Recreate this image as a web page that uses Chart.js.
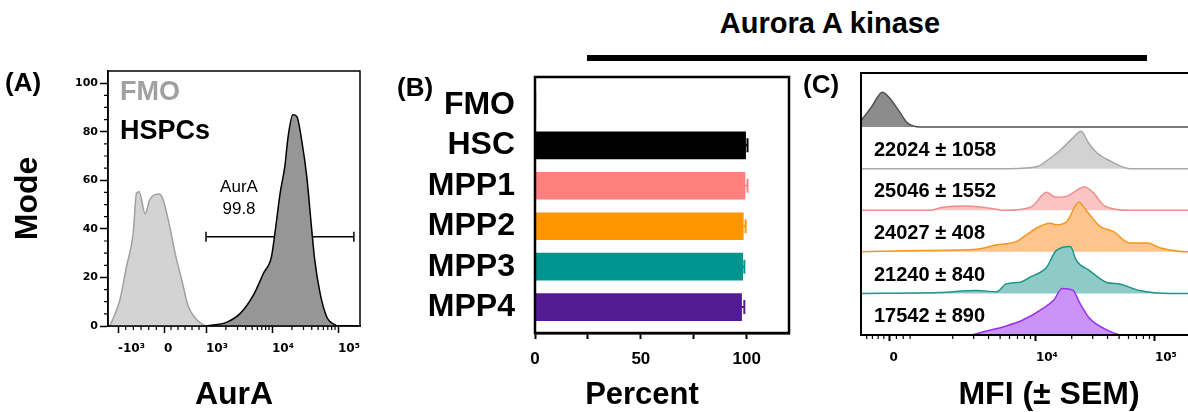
<!DOCTYPE html>
<html>
<head>
<meta charset="utf-8">
<script src="https://cdn.jsdelivr.net/npm/chart.js@4.4.1/dist/chart.umd.min.js"></script>
<style>
  body { margin: 0; background: #fff; width: 1188px; height: 412px; overflow: hidden; position: relative; font-family: "Liberation Sans", Arial, sans-serif; }
  canvas { position: absolute; top: 0; }
  #heading { position: absolute; left: 630px; top: 9px; width: 400px; text-align: center; font-size: 29px; line-height: 29px; font-weight: bold; }
  #rule { position: absolute; left: 587px; top: 55px; width: 560px; height: 6px; background: #000; }
</style>
</head>
<body>
<div id="heading">Aurora A kinase</div>
<div id="rule"></div>
<canvas id="chartA" width="380" height="412" style="left:0px"></canvas>
<canvas id="chartB" width="420" height="412" style="left:380px"></canvas>
<canvas id="chartC" width="437" height="412" style="left:800px"></canvas>
<script>
// Panel A - AurA histograms (x in display decades: 3 = 10^3, 4 = 10^4 ...)
const fmoAX = [1.545, 1.695, 1.795, 1.896, 1.947, 1.987, 2.078, 2.148, 2.299, 2.350, 2.450, 2.531, 2.632, 2.732, 2.864, 2.985];
const fmoAY = [0, 10.7, 24.5, 38, 54.7, 55.3, 46.2, 52, 54.4, 52, 41, 30, 19, 8, 2.5, 0];
const hspcAX = [3.005, 3.317, 3.519, 3.720, 3.871, 3.992, 4.043, 4.123, 4.194, 4.244, 4.315, 4.375, 4.456, 4.526, 4.597, 4.647, 4.728, 4.828, 4.980];
const hspcAY = [0, 1.6, 5.2, 12.8, 21.7, 28.6, 38, 54.7, 65.7, 78, 87, 86.3, 75.3, 61.6, 41, 27.2, 13.5, 3.8, 0];
const gateRange = [3.0, 5.24];
const gateLevel = 36.7;
const gateText = ['AurA', '99.8'];
const modeTicks = [0, 20, 40, 60, 80, 100];
const tickPosA = [1.667, 2.364, 3, 4, 5];
const tickLabA = ['-10³', '0', '10³', '10⁴', '10⁵'];

// Panel B - percent positive
const categories = ['FMO', 'HSC', 'MPP1', 'MPP2', 'MPP3', 'MPP4'];
const percentValues = [0.5, 99.5, 99.2, 98.4, 98.1, 97.6];
const percentSem = [0.2, 0.9, 1.2, 1.1, 0.8, 1.3];
const barColors = ['#bdbdbd', '#000000', '#ff7f7f', '#ff9500', '#00948f', '#531b93'];
const percentTicks = [0, 25, 50, 75, 100];

// Panel C - offset histograms, heights per row (rows top to bottom)
const cFmoX = [2.53, 2.62, 2.71, 2.77, 2.86, 2.92, 3.03, 5.69];
const cFmoH = [0.15, 0.49, 0.84, 0.70, 0.34, 0.10, 0, 0];
const cHscX = [2.53, 3.78, 4.01, 4.09, 4.20, 4.30, 4.38, 4.44, 4.51, 4.62, 4.79, 5.69];
const cHscH = [0, 0, 0.05, 0.19, 0.43, 0.71, 0.90, 0.63, 0.39, 0.19, 0, 0];
const cMpp1X = [2.53, 3.10, 3.22, 3.42, 3.61, 3.72, 3.87, 3.97, 4.09, 4.17, 4.26, 4.41, 4.48, 4.58, 4.79, 5.69];
const cMpp1H = [0, 0, 0.07, 0.10, 0.05, 0, 0.02, 0.10, 0.43, 0.31, 0.34, 0.56, 0.43, 0.10, 0, 0];
const cMpp2X = [2.53, 3.05, 3.50, 3.67, 3.84, 3.92, 4.03, 4.12, 4.17, 4.26, 4.36, 4.43, 4.54, 4.65, 4.79, 4.94, 5.04, 5.18, 5.27, 5.69];
const cMpp2H = [0, 0.03, 0.06, 0.17, 0.25, 0.41, 0.61, 0.69, 0.65, 0.73, 1.19, 0.97, 0.61, 0.49, 0.21, 0.21, 0.10, 0.02, 0, 0];
const cMpp3X = [2.53, 3.19, 3.50, 3.67, 3.75, 3.87, 3.95, 4.09, 4.17, 4.29, 4.34, 4.45, 4.59, 4.71, 4.87, 5.13, 5.69];
const cMpp3H = [0, 0.02, 0.07, 0.04, 0.23, 0.27, 0.39, 0.63, 1.03, 1.13, 0.79, 0.55, 0.27, 0.22, 0.07, 0, 0];
const cMpp4X = [2.53, 3.45, 3.56, 3.73, 3.89, 4.06, 4.15, 4.22, 4.31, 4.37, 4.45, 4.57, 4.73, 5.69];
const cMpp4H = [0, 0, 0.08, 0.20, 0.36, 0.64, 0.84, 1.12, 1.08, 0.76, 0.40, 0.16, 0, 0];
const mfiLabels = ['', '22024 ± 1058', '25046 ± 1552', '24027 ± 408', '21240 ± 840', '17542 ± 890'];
const rowFill = ['#8c8c8c', '#d2d2d2', '#fbc4c4', '#fdc48c', '#8fcbc6', '#c993f7'];
const rowLine = ['#505050', '#a8a8a8', '#f28b8b', '#f5961e', '#1e948c', '#9b30ec'];
const tickPosC = [2.77, 4, 5];
const tickLabC = ['0', '10⁴', '10⁵'];

const boldSans = (size) => ({ family: '"Liberation Sans", Arial, sans-serif', weight: 'bold', size: size });
const boldDejavu = (size) => ({ family: '"DejaVu Sans", sans-serif', weight: 'bold', size: size });

// minor ticks for the flow axes (log decades)
function logMinor(from, to) {
    const out = [];
    for (let d = from; d < to; d++) {
        for (let k = 2; k <= 9; k++) out.push(d + Math.log10(k));
    }
    return out;
}
function linMinor(a, b, n) {
    const out = [];
    for (let i = 1; i < n; i++) out.push(a + (b - a) * i / n);
    return out;
}

function drawXMinor(chart, positions, len) {
    const { ctx, chartArea, scales } = chart;
    ctx.beginPath();
    positions.forEach((v) => {
        const px = scales.x.getPixelForValue(v);
        if (px < chartArea.left || px > chartArea.right) return;
        ctx.moveTo(px, chartArea.bottom);
        ctx.lineTo(px, chartArea.bottom + len);
    });
    ctx.stroke();
}

const panelA = {
    id: 'panelA',
    afterDraw(chart) {
        const { ctx, chartArea: a, scales: { x, y } } = chart;
        ctx.save();
        ctx.strokeStyle = '#000';
        ctx.lineWidth = 1.5;
        ctx.strokeRect(a.left, a.top, a.right - a.left, a.bottom - a.top);

        // minor ticks
        ctx.lineWidth = 1.2;
        ctx.beginPath();
        for (let v = 5; v <= 100; v += 5) {
            if (v % 20 === 0) continue;
            const py = y.getPixelForValue(v);
            ctx.moveTo(a.left - 4, py);
            ctx.lineTo(a.left, py);
        }
        ctx.stroke();
        drawXMinor(chart, logMinor(3, 5).concat(linMinor(1.667, 2.364, 6), linMinor(2.364, 3, 6)), 4);

        // legend
        ctx.textBaseline = 'middle';
        ctx.textAlign = 'left';
        ctx.font = 'bold 27px "Liberation Sans", Arial, sans-serif';
        ctx.fillStyle = '#a0a0a0';
        ctx.fillText('FMO', 120, 93);
        ctx.fillStyle = '#000';
        ctx.fillText('HSPCs', 120, 132);

        // gate label
        ctx.font = '17px "Liberation Sans", Arial, sans-serif';
        ctx.textAlign = 'center';
        const gx = x.getPixelForValue((gateRange[0] + gateRange[1]) / 2 - 0.62);
        ctx.fillText(gateText[0], gx, y.getPixelForValue(57));
        ctx.fillText(gateText[1], gx, y.getPixelForValue(48));

        ctx.textAlign = 'left';
        ctx.font = 'bold 26px "Liberation Sans", Arial, sans-serif';
        ctx.fillText('(A)', 5, 84);
        ctx.restore();
    }
};

new Chart(document.getElementById('chartA'), {
    type: 'line',
    data: {
        datasets: [
            {
                data: hspcAX.map((v, i) => ({ x: v, y: hspcAY[i] })),
                borderColor: '#000', borderWidth: 1.5, backgroundColor: '#969696',
                fill: 'origin', pointRadius: 0, cubicInterpolationMode: 'monotone'
            },
            {
                data: fmoAX.map((v, i) => ({ x: v, y: fmoAY[i] })),
                borderColor: '#a0a0a0', borderWidth: 1.5, backgroundColor: '#d3d3d3',
                fill: 'origin', pointRadius: 0, cubicInterpolationMode: 'monotone'
            },
            {
                data: gateRange.map((v) => ({ x: v, y: gateLevel })),
                borderColor: '#000', borderWidth: 1.5, fill: false,
                pointStyle: 'line', rotation: 90, pointRadius: 5, pointBorderWidth: 1.5, pointBorderColor: '#000'
            }
        ]
    },
    options: {
        responsive: false,
        animation: false,
        devicePixelRatio: 1,
        layout: { padding: { left: 0, top: 71, right: 20, bottom: 0 } },
        plugins: { legend: { display: false }, tooltip: { enabled: false } },
        scales: {
            x: {
                type: 'linear', min: 1.515, max: 5.333,
                afterBuildTicks: (ax) => { ax.ticks = tickPosA.map((v) => ({ value: v })); },
                ticks: { callback: (v, i) => tickLabA[i], font: boldDejavu(12), color: '#000', padding: 9, align: 'start', maxRotation: 0, autoSkip: false },
                grid: { drawOnChartArea: false, tickLength: 7, tickColor: '#000', tickWidth: 1.5 },
                border: { color: '#000', width: 1.5 },
                title: { display: true, text: 'AurA', font: boldSans(32), color: '#000', padding: { top: 0, bottom: -2 } },
                afterFit: (ax) => { ax.height = 86; }
            },
            y: {
                min: 0, max: 105,
                afterBuildTicks: (ax) => { ax.ticks = modeTicks.map((v) => ({ value: v })); },
                ticks: { font: boldDejavu(11), color: '#000', padding: 2 },
                grid: { drawOnChartArea: false, tickLength: 8, tickColor: '#000', tickWidth: 1.5 },
                border: { color: '#000', width: 1.5 },
                title: { display: true, text: 'Mode', font: boldSans(32), color: '#000', padding: { top: 9, bottom: 0 } },
                afterFit: (ax) => { ax.width = 108; }
            }
        }
    },
    plugins: [panelA]
});

const panelB = {
    id: 'panelB',
    afterDraw(chart) {
        const { ctx, chartArea: a, scales: { x, y } } = chart;
        ctx.save();
        // error bars (+SEM)
        ctx.lineWidth = 2;
        categories.forEach((c, i) => {
            if (i === 0) return;
            const x0 = x.getPixelForValue(percentValues[i]);
            const x1 = x.getPixelForValue(percentValues[i] + percentSem[i]);
            const py = y.getPixelForValue(i);
            ctx.strokeStyle = barColors[i];
            ctx.beginPath();
            ctx.moveTo(x0, py);
            ctx.lineTo(x1, py);
            ctx.moveTo(x1, py - 7);
            ctx.lineTo(x1, py + 7);
            ctx.stroke();
        });
        ctx.strokeStyle = '#000';
        ctx.lineWidth = 2.5;
        ctx.strokeRect(a.left, a.top, a.right - a.left, a.bottom - a.top);

        ctx.fillStyle = '#000';
        ctx.textBaseline = 'middle';
        ctx.textAlign = 'center';
        ctx.font = 'bold 31px "Liberation Sans", Arial, sans-serif';
        ctx.fillText('Percent', 262, 395);
        ctx.textAlign = 'left';
        ctx.font = 'bold 26px "Liberation Sans", Arial, sans-serif';
        ctx.fillText('(B)', 17, 89);
        ctx.restore();
    }
};

new Chart(document.getElementById('chartB'), {
    type: 'bar',
    data: {
        datasets: [{
            data: categories.map((c, i) => ({ x: percentValues[i], y: i })),
            backgroundColor: barColors,
            borderWidth: 0,
            barThickness: 27
        }]
    },
    options: {
        indexAxis: 'y',
        responsive: false,
        animation: false,
        devicePixelRatio: 1,
        layout: { padding: { left: 0, top: 77, right: 11, bottom: 0 } },
        plugins: { legend: { display: false }, tooltip: { enabled: false } },
        scales: {
            x: {
                type: 'linear', min: 0, max: 120,
                afterBuildTicks: (ax) => { ax.ticks = percentTicks.map((v) => ({ value: v })); },
                ticks: { callback: (v) => (v % 50 === 0 ? v : ''), font: boldSans(17), color: '#000', padding: 10, maxRotation: 0, autoSkip: false },
                grid: { drawOnChartArea: false, tickLength: 6, tickColor: '#000', tickWidth: 2 },
                border: { color: '#000', width: 2.5 },
                afterFit: (ax) => { ax.height = 79; }
            },
            y: {
                type: 'linear', reverse: true, min: -0.69, max: 5.64, offset: false,
                afterBuildTicks: (ax) => { ax.ticks = categories.map((c, i) => ({ value: i })); },
                ticks: { callback: (v) => categories[v], font: boldSans(32), color: '#000', padding: 20, autoSkip: false },
                grid: { display: false, drawTicks: false, offset: false },
                border: { display: false },
                afterFit: (ax) => { ax.width = 155; }
            }
        }
    },
    plugins: [panelB]
});

const rowsX = [cFmoX, cHscX, cMpp1X, cMpp2X, cMpp3X, cMpp4X];
const rowsH = [cFmoH, cHscH, cMpp1H, cMpp2H, cMpp3H, cMpp4H];

const panelC = {
    id: 'panelC',
    afterDraw(chart) {
        const { ctx, chartArea: a, scales: { x, y } } = chart;
        ctx.save();
        ctx.strokeStyle = '#000';
        ctx.lineWidth = 2;
        ctx.strokeRect(a.left, a.top, a.right - a.left, a.bottom - a.top);
        ctx.lineWidth = 1.2;
        drawXMinor(chart, logMinor(3, 5).concat(linMinor(2.53, 2.77, 5), linMinor(2.77, 3, 4)), 4);

        ctx.fillStyle = '#000';
        ctx.textBaseline = 'middle';
        ctx.textAlign = 'left';
        ctx.font = 'bold 20px "Liberation Sans", Arial, sans-serif';
        mfiLabels.forEach((t, i) => {
            const base = rowsX.length - 1 - i;
            ctx.fillText(t, a.left + 13, y.getPixelForValue(base + 0.44));
        });
        ctx.font = 'bold 26px "Liberation Sans", Arial, sans-serif';
        ctx.fillText('(C)', 3, 86);
        ctx.restore();
    }
};

new Chart(document.getElementById('chartC'), {
    type: 'line',
    data: {
        datasets: rowsX.map((xs, r) => {
            const base = rowsX.length - 1 - r;
            return {
                data: xs.map((v, i) => ({ x: v, y: base + rowsH[r][i] })),
                borderColor: rowLine[r], borderWidth: 1.5, backgroundColor: rowFill[r],
                fill: { value: base }, pointRadius: 0, cubicInterpolationMode: 'monotone',
                order: base
            };
        })
    },
    options: {
        responsive: false,
        animation: false,
        devicePixelRatio: 1,
        layout: { padding: { left: 61, top: 73, right: 0, bottom: 0 } },
        plugins: { legend: { display: false }, tooltip: { enabled: false } },
        scales: {
            x: {
                type: 'linear', min: 2.53, max: 5.69,
                afterBuildTicks: (ax) => { ax.ticks = tickPosC.map((v) => ({ value: v })); },
                ticks: { callback: (v, i) => tickLabC[i], font: boldDejavu(12), color: '#000', padding: 10, align: 'start', maxRotation: 0, autoSkip: false },
                grid: { drawOnChartArea: false, tickLength: 6, tickColor: '#000', tickWidth: 2 },
                border: { color: '#000', width: 2 },
                title: { display: true, text: 'MFI (± SEM)', font: boldSans(32), color: '#000', padding: { top: 0, bottom: -2 } },
                afterFit: (ax) => { ax.height = 77; }
            },
            y: { display: false, min: 0, max: 6.3 }
        }
    },
    plugins: [panelC]
});
</script>
</body>
</html>
